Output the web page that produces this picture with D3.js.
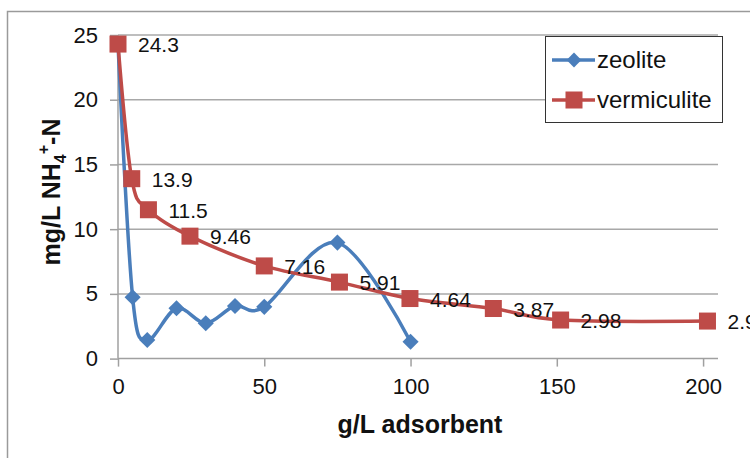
<!DOCTYPE html>
<html><head><meta charset="utf-8">
<script src="https://cdn.jsdelivr.net/npm/d3@7"></script>
<style>body{margin:0;background:#fff;} svg{display:block;font-family:"Liberation Sans",Arial,sans-serif;}</style>
</head><body>
<script>
const zeoliteX = [0, 5, 10, 20, 30, 40, 50, 75, 100];
const zeoliteY = [24.3, 4.74, 1.44, 3.89, 2.73, 4.06, 4.0, 8.96, 1.3];
const vermX = [0, 4.7, 10.4, 24.6, 50, 75.7, 99.8, 128.3, 151.3, 201.5];
const vermY = [24.3, 13.9, 11.5, 9.46, 7.16, 5.91, 4.64, 3.87, 2.98, 2.9];
const vermLabels = ["24.3", "13.9", "11.5", "9.46", "7.16", "5.91", "4.64", "3.87", "2.98", "2.9"];
const xTicks = [0, 50, 100, 150, 200];
const yTicks = [0, 5, 10, 15, 20, 25];
const seriesNames = ["zeolite", "vermiculite"];
const colors = ["#4a7ebb", "#be4b48"];

const W = 750, H = 458;
const svg = d3.select("body").append("svg").attr("width", W).attr("height", H);

// outer chart frame
svg.append("rect").attr("x", 7.5).attr("y", 11.5).attr("width", 800).attr("height", 500)
  .attr("fill", "none").attr("stroke", "#9a9a9a").attr("stroke-width", 1.5);

const x = d3.scaleLinear().domain([0, 205.1]).range([118, 718]);
const y = d3.scaleLinear().domain([0, 25]).range([358.6, 35]);

// gridlines
svg.append("g").selectAll("line").data(yTicks.filter(d => d > 0)).join("line")
  .attr("x1", x(0)).attr("x2", x(205.1)).attr("y1", d => y(d)).attr("y2", d => y(d))
  .attr("stroke", "#a8a8a8").attr("stroke-width", 1.5);

// axes
const xAxis = d3.axisBottom(x).tickValues(xTicks).tickSize(8).tickPadding(12).tickSizeOuter(0);
const gx = svg.append("g").attr("transform", `translate(0,${y(0)})`).call(xAxis);
gx.select(".domain").attr("stroke", "#a0a0a0").attr("stroke-width", 1.5).attr("d", `M${x(0)},0H${x(205.1)}`);
gx.selectAll(".tick line").attr("stroke", "#a0a0a0").attr("stroke-width", 1.5);
gx.selectAll(".tick text").attr("font-size", 22).attr("fill", "#111").attr("font-family", "Liberation Sans, Arial, sans-serif");

const yAxis = d3.axisLeft(y).tickValues(yTicks).tickSize(8).tickPadding(12).tickSizeOuter(0);
const gy = svg.append("g").attr("transform", `translate(${x(0)},0)`).call(yAxis);
gy.select(".domain").attr("stroke", "#a0a0a0").attr("stroke-width", 1.5).attr("d", `M0,${y(0)}V${y(25)}`);
gy.selectAll(".tick line").attr("stroke", "#a0a0a0").attr("stroke-width", 1.5);
gy.selectAll(".tick text").attr("font-size", 22).attr("fill", "#111").attr("font-family", "Liberation Sans, Arial, sans-serif");

// axis titles
svg.append("text").attr("x", 420).attr("y", 433).attr("text-anchor", "middle")
  .attr("font-size", 25).attr("font-weight", "bold").attr("fill", "#111").text("g/L adsorbent");

const yt = svg.append("text").attr("transform", "translate(60,192) rotate(-90)")
  .attr("text-anchor", "middle").attr("font-size", 25).attr("font-weight", "bold").attr("fill", "#111");
yt.append("tspan").text("mg/L  NH");
yt.append("tspan").attr("font-size", 16).attr("dy", 6).text("4");
yt.append("tspan").attr("font-size", 16).attr("dy", -17).text("+");
yt.append("tspan").attr("dy", 11).text("-N");

const line = d3.line().x(d => x(d[0])).y(d => y(d[1])).curve(d3.curveCardinal.tension(0));

const zData = zeoliteX.map((v, i) => [v, zeoliteY[i]]);
const vData = vermX.map((v, i) => [v, vermY[i]]);

// zeolite
svg.append("path").datum(zData).attr("d", line).attr("fill", "none")
  .attr("stroke", colors[0]).attr("stroke-width", 3.5);
svg.append("g").selectAll("path").data(zData).join("path")
  .attr("d", d3.symbol().type(d3.symbolSquare).size(130))
  .attr("transform", d => `translate(${x(d[0])},${y(d[1])}) rotate(45)`)
  .attr("fill", colors[0]);

// vermiculite
svg.append("path").datum(vData).attr("d", line).attr("fill", "none")
  .attr("stroke", colors[1]).attr("stroke-width", 3.5);
svg.append("g").selectAll("rect").data(vData).join("rect")
  .attr("x", d => x(d[0]) - 8.5).attr("y", d => y(d[1]) - 8.5).attr("width", 17).attr("height", 17)
  .attr("fill", colors[1]);
svg.append("g").selectAll("text").data(vData).join("text")
  .attr("x", d => x(d[0]) + 20).attr("y", d => y(d[1]) + 8)
  .attr("font-size", 21).attr("fill", "#111").text((d, i) => vermLabels[i]);

// legend
const lg = svg.append("g");
lg.append("rect").attr("x", 545.5).attr("y", 36.5).attr("width", 177).attr("height", 86)
  .attr("fill", "#fff").attr("stroke", "#333").attr("stroke-width", 1);
seriesNames.forEach((name, i) => {
  const cy = 60 + i * 40;
  lg.append("line").attr("x1", 552).attr("x2", 595).attr("y1", cy).attr("y2", cy)
    .attr("stroke", colors[i]).attr("stroke-width", 3.5);
  if (i === 0) {
    lg.append("path").attr("d", d3.symbol().type(d3.symbolSquare).size(110)())
      .attr("transform", `translate(574,${cy}) rotate(45)`).attr("fill", colors[i]);
  } else {
    lg.append("rect").attr("x", 565.5).attr("y", cy - 8.5).attr("width", 17).attr("height", 17).attr("fill", colors[i]);
  }
  lg.append("text").attr("x", 597).attr("y", cy + 8).attr("font-size", 24).attr("fill", "#111").text(name);
});
</script>
</body></html>
